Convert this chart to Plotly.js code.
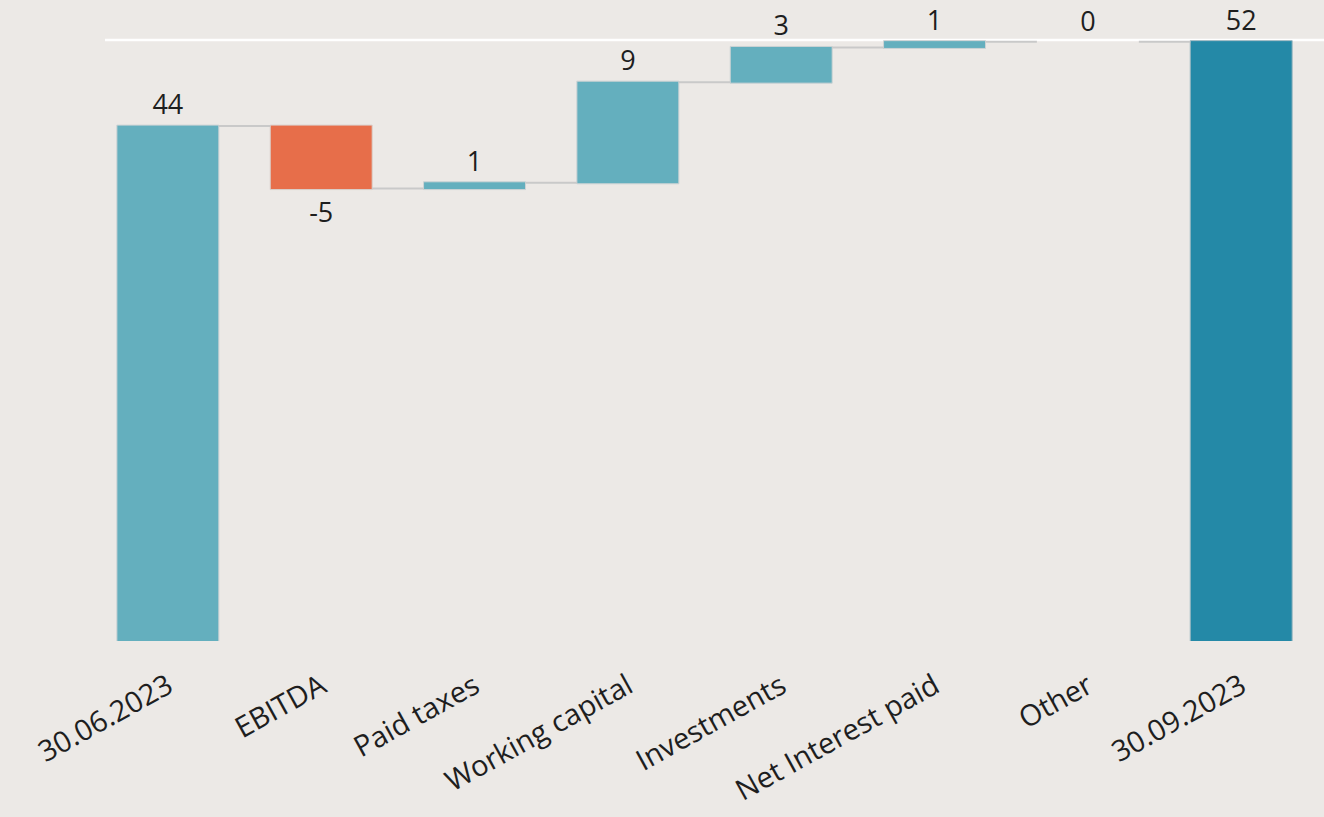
<!DOCTYPE html>
<html>
<head>
<meta charset="utf-8">
<script src="https://cdn.plot.ly/plotly-3.0.1.min.js"></script>
<style>html,body{margin:0;padding:0;background:#ECE9E6;}#chart{width:1324px;height:817px;}</style>
</head>
<body>
<div id="chart"></div>
<script>
var categories = ["30.06.2023", "EBITDA", "Paid taxes", "Working capital", "Investments", "Net Interest paid", "Other", "30.09.2023"];
var values = [44.5, -5.4, 0.5, 8.7, 3.0, 0.5, 0.0, 51.8];
var measures = ["relative", "relative", "relative", "relative", "relative", "relative", "relative", "total"];
var valueLabels = ["44", "-5", "1", "9", "3", "1", "0", "52"];
var topLineValue = 51.95;

var trace = {
  type: "waterfall",
  x: categories,
  y: values,
  measure: measures,
  text: valueLabels,
  textinfo: "text",
  textposition: "outside",
  cliponaxis: false,
  textfont: {family: "Open Sans, sans-serif", size: 27, color: "#1e1e1e"},
  increasing: {marker: {color: "#64AFBE", line: {color: "#cdd3d4", width: 1}}},
  decreasing: {marker: {color: "#E76E4A", line: {color: "#d9d0cc", width: 1}}},
  totals: {marker: {color: "#2489A7", line: {color: "#9fb9c2", width: 1}}},
  connector: {mode: "between", line: {color: "#c9c9c9", width: 2}},
  hoverinfo: "none"
};

var layout = {
  width: 1324,
  height: 817,
  paper_bgcolor: "#ECE9E6",
  plot_bgcolor: "#ECE9E6",
  margin: {l: 105, r: 0, t: 0, b: 176},
  showlegend: false,
  waterfallgap: 0.335,
  font: {family: "Open Sans, sans-serif", color: "#1e1e1e"},
  xaxis: {
    type: "category",
    range: [-0.41, 7.54],
    tickangle: -29,
    tickfont: {family: "Open Sans, sans-serif", size: 29, color: "#1e1e1e"},
    ticks: "outside",
    ticklen: 16,
    tickcolor: "rgba(0,0,0,0)",
    showline: false,
    showgrid: false,
    zeroline: false
  },
  yaxis: {
    range: [0, 55.4],
    visible: false,
    showgrid: false,
    zeroline: false
  },
  shapes: [{
    type: "line",
    xref: "paper", yref: "y",
    x0: 0, x1: 1, y0: topLineValue, y1: topLineValue,
    line: {color: "#ffffff", width: 2.5},
    layer: "below"
  }]
};

Plotly.newPlot("chart", [trace], layout, {displayModeBar: false, staticPlot: true});
</script>
</body>
</html>
